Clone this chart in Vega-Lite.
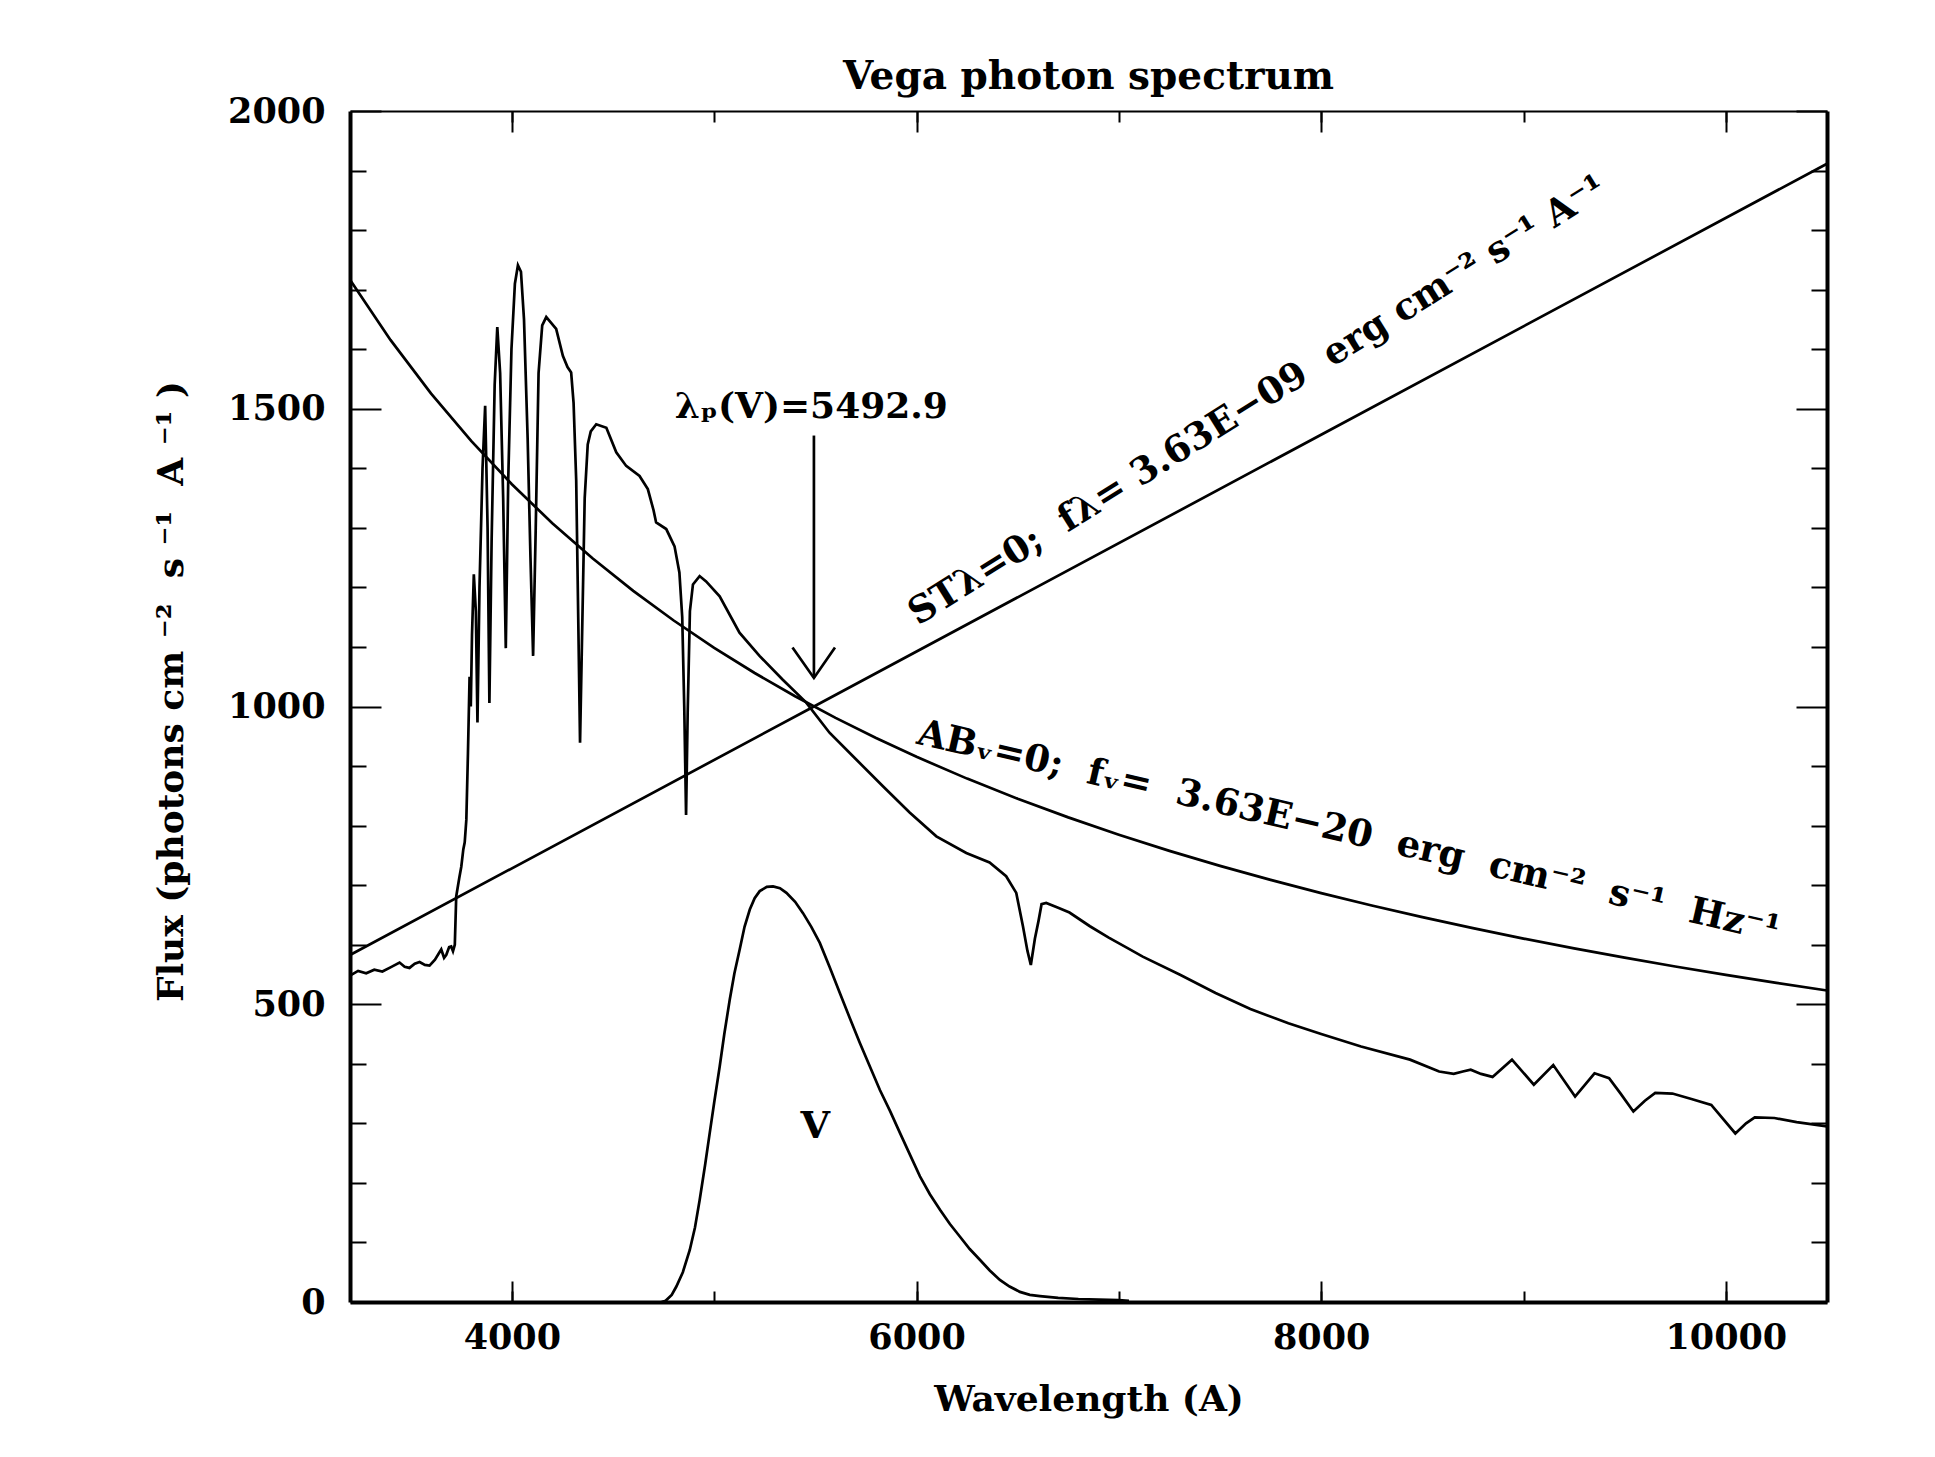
{
  "$schema": "https://vega.github.io/schema/vega-lite/v6.json",
  "width": 1477,
  "height": 1191,
  "autosize": {"type": "none"},
  "padding": {"left": 350, "top": 111, "right": 108, "bottom": 155},
  "background": "white",
  "title": {
    "text": "Vega photon spectrum",
    "font": "DejaVu Serif",
    "fontSize": 39,
    "fontWeight": "bold",
    "color": "black",
    "anchor": "middle",
    "frame": "group",
    "baseline": "alphabetic",
    "offset": 20,
    "dy": 54
  },
  "config": {
    "view": {"stroke": null},
    "axis": {"grid": false, "tickColor": "black", "domainColor": "black", "labelColor": "black", "titleColor": "black", "tickWidth": 2}
  },
  "datasets": {
    "spec": [
      {"w": 3200, "f": 548}, {"w": 3240, "f": 556}, {"w": 3280, "f": 552}, {"w": 3320, "f": 558}, {"w": 3360, "f": 555},
      {"w": 3400, "f": 562}, {"w": 3445, "f": 570}, {"w": 3470, "f": 563}, {"w": 3494, "f": 561}, {"w": 3520, "f": 568},
      {"w": 3544, "f": 571}, {"w": 3570, "f": 566}, {"w": 3593, "f": 565}, {"w": 3620, "f": 575}, {"w": 3640, "f": 586},
      {"w": 3651, "f": 592}, {"w": 3665, "f": 578}, {"w": 3676, "f": 583}, {"w": 3690, "f": 596}, {"w": 3700, "f": 597},
      {"w": 3709, "f": 589}, {"w": 3718, "f": 600}, {"w": 3725, "f": 681}, {"w": 3740, "f": 712}, {"w": 3750, "f": 731},
      {"w": 3760, "f": 760}, {"w": 3767, "f": 772}, {"w": 3775, "f": 810}, {"w": 3783, "f": 922}, {"w": 3791, "f": 1050},
      {"w": 3797, "f": 1000}, {"w": 3803, "f": 1120}, {"w": 3812, "f": 1222}, {"w": 3822, "f": 1160}, {"w": 3830, "f": 973},
      {"w": 3840, "f": 1200}, {"w": 3855, "f": 1400}, {"w": 3868, "f": 1505}, {"w": 3880, "f": 1300}, {"w": 3889, "f": 1006},
      {"w": 3900, "f": 1280}, {"w": 3915, "f": 1540}, {"w": 3928, "f": 1637}, {"w": 3942, "f": 1560}, {"w": 3957, "f": 1350},
      {"w": 3970, "f": 1098}, {"w": 3982, "f": 1380}, {"w": 3998, "f": 1600}, {"w": 4015, "f": 1710}, {"w": 4030, "f": 1741},
      {"w": 4045, "f": 1730}, {"w": 4060, "f": 1650}, {"w": 4078, "f": 1450}, {"w": 4092, "f": 1250}, {"w": 4105, "f": 1085},
      {"w": 4118, "f": 1300}, {"w": 4132, "f": 1560}, {"w": 4150, "f": 1640}, {"w": 4170, "f": 1654}, {"w": 4190, "f": 1646},
      {"w": 4219, "f": 1634}, {"w": 4252, "f": 1589}, {"w": 4275, "f": 1570}, {"w": 4293, "f": 1561}, {"w": 4305, "f": 1510},
      {"w": 4318, "f": 1380}, {"w": 4328, "f": 1150}, {"w": 4337, "f": 939}, {"w": 4346, "f": 1100}, {"w": 4360, "f": 1350},
      {"w": 4375, "f": 1440}, {"w": 4390, "f": 1462}, {"w": 4417, "f": 1474}, {"w": 4467, "f": 1468}, {"w": 4516, "f": 1427},
      {"w": 4565, "f": 1404}, {"w": 4631, "f": 1387}, {"w": 4672, "f": 1365}, {"w": 4700, "f": 1330}, {"w": 4713, "f": 1309},
      {"w": 4763, "f": 1298}, {"w": 4804, "f": 1269}, {"w": 4828, "f": 1225}, {"w": 4842, "f": 1150}, {"w": 4852, "f": 1000},
      {"w": 4861, "f": 818}, {"w": 4869, "f": 990}, {"w": 4880, "f": 1160}, {"w": 4895, "f": 1205}, {"w": 4928, "f": 1219},
      {"w": 4960, "f": 1210}, {"w": 5027, "f": 1185}, {"w": 5125, "f": 1124}, {"w": 5224, "f": 1085}, {"w": 5339, "f": 1045},
      {"w": 5454, "f": 1007}, {"w": 5570, "f": 956}, {"w": 5702, "f": 911}, {"w": 5834, "f": 866}, {"w": 5966, "f": 822},
      {"w": 6098, "f": 782}, {"w": 6246, "f": 754}, {"w": 6361, "f": 738}, {"w": 6443, "f": 715}, {"w": 6493, "f": 687},
      {"w": 6526, "f": 631}, {"w": 6548, "f": 590}, {"w": 6565, "f": 566}, {"w": 6585, "f": 610}, {"w": 6603, "f": 640},
      {"w": 6618, "f": 668}, {"w": 6641, "f": 670}, {"w": 6700, "f": 662}, {"w": 6756, "f": 654}, {"w": 6857, "f": 631},
      {"w": 6950, "f": 612}, {"w": 7050, "f": 593}, {"w": 7118, "f": 580}, {"w": 7300, "f": 550}, {"w": 7478, "f": 519},
      {"w": 7650, "f": 492}, {"w": 7838, "f": 468}, {"w": 8000, "f": 450}, {"w": 8197, "f": 429}, {"w": 8439, "f": 407},
      {"w": 8583, "f": 387}, {"w": 8655, "f": 383}, {"w": 8700, "f": 387}, {"w": 8739, "f": 390}, {"w": 8790, "f": 383},
      {"w": 8847, "f": 378}, {"w": 8943, "f": 407}, {"w": 9051, "f": 365}, {"w": 9147, "f": 398}, {"w": 9255, "f": 345},
      {"w": 9351, "f": 384}, {"w": 9423, "f": 376}, {"w": 9480, "f": 350}, {"w": 9543, "f": 320}, {"w": 9600, "f": 338},
      {"w": 9651, "f": 351}, {"w": 9736, "f": 350}, {"w": 9830, "f": 341}, {"w": 9928, "f": 331}, {"w": 10047, "f": 283},
      {"w": 10100, "f": 300}, {"w": 10143, "f": 310}, {"w": 10240, "f": 309}, {"w": 10350, "f": 302}, {"w": 10500, "f": 295}
    ],
    "vband": [
      {"w": 4740, "f": 0}, {"w": 4760, "f": 2}, {"w": 4790, "f": 12}, {"w": 4813, "f": 26}, {"w": 4845, "f": 50},
      {"w": 4879, "f": 87}, {"w": 4905, "f": 125}, {"w": 4928, "f": 171}, {"w": 4955, "f": 230}, {"w": 4978, "f": 284},
      {"w": 5000, "f": 335}, {"w": 5027, "f": 395}, {"w": 5050, "f": 450}, {"w": 5077, "f": 508}, {"w": 5100, "f": 552},
      {"w": 5126, "f": 592}, {"w": 5150, "f": 630}, {"w": 5176, "f": 659}, {"w": 5200, "f": 678}, {"w": 5225, "f": 690},
      {"w": 5260, "f": 697}, {"w": 5291, "f": 698}, {"w": 5325, "f": 695}, {"w": 5357, "f": 687}, {"w": 5400, "f": 672},
      {"w": 5439, "f": 653}, {"w": 5480, "f": 630}, {"w": 5522, "f": 603}, {"w": 5570, "f": 563}, {"w": 5621, "f": 519},
      {"w": 5670, "f": 477}, {"w": 5720, "f": 435}, {"w": 5770, "f": 395}, {"w": 5819, "f": 356}, {"w": 5870, "f": 320},
      {"w": 5918, "f": 284}, {"w": 5968, "f": 247}, {"w": 6017, "f": 211}, {"w": 6066, "f": 181}, {"w": 6116, "f": 155},
      {"w": 6165, "f": 131}, {"w": 6214, "f": 110}, {"w": 6263, "f": 89}, {"w": 6313, "f": 71}, {"w": 6362, "f": 53},
      {"w": 6412, "f": 37}, {"w": 6460, "f": 26}, {"w": 6511, "f": 17}, {"w": 6560, "f": 12}, {"w": 6610, "f": 10},
      {"w": 6700, "f": 7}, {"w": 6800, "f": 5}, {"w": 6900, "f": 4}, {"w": 7000, "f": 3}, {"w": 7050, "f": 2}
    ],
    "st": [
      {"w": 3200, "f": 582.6}, {"w": 5492.9, "f": 1000}, {"w": 10500, "f": 1911.5}
    ],
    "ab": [
      {"w": 3200, "f": 1716.5}, {"w": 3400, "f": 1615.6}, {"w": 3600, "f": 1525.8}, {"w": 3800, "f": 1445.5},
      {"w": 4000, "f": 1373.2}, {"w": 4200, "f": 1307.8}, {"w": 4400, "f": 1248.4}, {"w": 4600, "f": 1194.1},
      {"w": 4800, "f": 1144.4}, {"w": 5000, "f": 1098.6}, {"w": 5200, "f": 1056.3}, {"w": 5400, "f": 1017.2},
      {"w": 5600, "f": 980.9}, {"w": 5800, "f": 947.1}, {"w": 6000, "f": 915.5}, {"w": 6250, "f": 878.9},
      {"w": 6500, "f": 845.1}, {"w": 6750, "f": 813.8}, {"w": 7000, "f": 784.7}, {"w": 7250, "f": 757.6},
      {"w": 7500, "f": 732.4}, {"w": 7750, "f": 708.8}, {"w": 8000, "f": 686.6}, {"w": 8250, "f": 665.8},
      {"w": 8500, "f": 646.2}, {"w": 8750, "f": 627.8}, {"w": 9000, "f": 610.3}, {"w": 9250, "f": 593.8},
      {"w": 9500, "f": 578.2}, {"w": 9750, "f": 563.4}, {"w": 10000, "f": 549.3}, {"w": 10250, "f": 535.9},
      {"w": 10500, "f": 523.1}
    ],
    "arrow": [
      {"part": "shaft", "i": 0, "w": 5492.9, "f": 1455},
      {"part": "shaft", "i": 1, "w": 5492.9, "f": 1048},
      {"part": "head", "i": 0, "w": 5387, "f": 1099},
      {"part": "head", "i": 1, "w": 5492.9, "f": 1048},
      {"part": "head", "i": 2, "w": 5597, "f": 1099}
    ],
    "lp": [{"w": 5480, "f": 1484, "t": "λₚ(V)=5492.9"}],
    "stlab": [{"w": 6007, "f": 1135, "t": "STλ=0;\u00a0\u00a0fλ= 3.63E−09\u00a0\u00a0erg cm⁻² s⁻¹ A⁻¹"}],
    "ablab": [{"w": 5995, "f": 938, "t": "ABᵥ=0;\u00a0\u00a0fᵥ=\u00a0\u00a03.63E−20\u00a0\u00a0erg\u00a0\u00a0cm⁻²\u00a0\u00a0s⁻¹\u00a0\u00a0Hz⁻¹"}],
    "vlab": [{"w": 5500, "f": 276, "t": "V"}]
  },
  "layer": [
    {
      "data": {"name": "ab"},
      "mark": {"type": "line", "color": "black", "strokeWidth": 2.7},
      "encoding": {
        "x": {"field": "w", "type": "quantitative", "scale": {"domain": [3200, 10500], "nice": false, "zero": false},
          "axis": {"orient": "bottom", "values": [4000, 6000, 8000, 10000], "format": "d", "tickSize": -21, "domainWidth": 4,
            "labelFont": "DejaVu Serif", "labelFontSize": 35, "labelFontWeight": "bold", "labelPadding": 39, "labelBaseline": "top",
            "title": "Wavelength (A)", "titleFont": "DejaVu Serif", "titleFontSize": 36, "titleFontWeight": "bold",
            "titleBaseline": "alphabetic", "titleY": 108}},
        "y": {"field": "f", "type": "quantitative", "scale": {"domain": [0, 2000], "nice": false, "zero": false},
          "axis": {"orient": "left", "values": [0, 500, 1000, 1500, 2000], "format": "d", "tickSize": -31, "domainWidth": 4,
            "labelFont": "DejaVu Serif", "labelFontSize": 35, "labelFontWeight": "bold", "labelPadding": 56, "labelAlign": "right", "labelBaseline": "middle",
            "title": "Flux (photons cm\u00a0⁻²\u00a0\u00a0s\u00a0⁻¹\u00a0\u00a0A\u00a0⁻¹\u00a0)", "titleFont": "DejaVu Serif", "titleFontSize": 36, "titleFontWeight": "bold",
            "titleAngle": 270, "titleBaseline": "alphabetic", "titleAlign": "center", "titleX": -168, "titleY": 580}}
      }
    },
    {
      "data": {"name": "st"},
      "mark": {"type": "line", "color": "black", "strokeWidth": 2.7},
      "encoding": {
        "x": {"field": "w", "type": "quantitative", "scale": {"domain": [3200, 10500], "nice": false, "zero": false},
          "axis": {"orient": "bottom", "values": [4000, 5000, 6000, 7000, 8000, 9000, 10000], "tickSize": -11, "domain": false, "labels": false, "title": null}},
        "y": {"field": "f", "type": "quantitative", "scale": {"domain": [0, 2000], "nice": false, "zero": false},
          "axis": {"orient": "left", "values": [100, 200, 300, 400, 600, 700, 800, 900, 1100, 1200, 1300, 1400, 1600, 1700, 1800, 1900], "tickSize": -16, "domain": false, "labels": false, "title": null}}
      }
    },
    {
      "data": {"name": "spec"},
      "mark": {"type": "line", "color": "black", "strokeWidth": 2.7},
      "encoding": {
        "x": {"field": "w", "type": "quantitative", "scale": {"domain": [3200, 10500], "nice": false, "zero": false},
          "axis": {"orient": "top", "values": [4000, 6000, 8000, 10000], "tickSize": -21, "domainWidth": 2, "labels": false, "title": null}},
        "y": {"field": "f", "type": "quantitative", "scale": {"domain": [0, 2000], "nice": false, "zero": false},
          "axis": {"orient": "right", "values": [0, 500, 1000, 1500, 2000], "tickSize": -31, "domainWidth": 4, "labels": false, "title": null}}
      }
    },
    {
      "data": {"name": "vband"},
      "mark": {"type": "line", "color": "black", "strokeWidth": 2.7},
      "encoding": {
        "x": {"field": "w", "type": "quantitative", "scale": {"domain": [3200, 10500], "nice": false, "zero": false},
          "axis": {"orient": "top", "values": [4000, 5000, 6000, 7000, 8000, 9000, 10000], "tickSize": -11, "domain": false, "labels": false, "title": null}},
        "y": {"field": "f", "type": "quantitative", "scale": {"domain": [0, 2000], "nice": false, "zero": false},
          "axis": {"orient": "right", "values": [100, 200, 300, 400, 600, 700, 800, 900, 1100, 1200, 1300, 1400, 1600, 1700, 1800, 1900], "tickSize": -16, "domain": false, "labels": false, "title": null}}
      }
    },
    {
      "data": {"name": "arrow"},
      "mark": {"type": "line", "color": "black", "strokeWidth": 2.7},
      "encoding": {
        "x": {"field": "w", "type": "quantitative", "axis": null},
        "y": {"field": "f", "type": "quantitative", "axis": null},
        "detail": {"field": "part"},
        "order": {"field": "i", "type": "quantitative"}
      }
    },
    {
      "data": {"name": "lp"},
      "mark": {"type": "text", "font": "DejaVu Serif", "fontSize": 36, "fontWeight": "bold", "align": "center", "baseline": "alphabetic", "color": "black"},
      "encoding": {
        "x": {"field": "w", "type": "quantitative", "axis": null},
        "y": {"field": "f", "type": "quantitative", "axis": null},
        "text": {"field": "t"}
      }
    },
    {
      "data": {"name": "stlab"},
      "mark": {"type": "text", "font": "DejaVu Serif", "fontSize": 37, "fontWeight": "bold", "align": "left", "baseline": "alphabetic", "angle": -32, "color": "black"},
      "encoding": {
        "x": {"field": "w", "type": "quantitative", "axis": null},
        "y": {"field": "f", "type": "quantitative", "axis": null},
        "text": {"field": "t"}
      }
    },
    {
      "data": {"name": "ablab"},
      "mark": {"type": "text", "font": "DejaVu Serif", "fontSize": 37, "fontWeight": "bold", "align": "left", "baseline": "alphabetic", "angle": 13, "color": "black"},
      "encoding": {
        "x": {"field": "w", "type": "quantitative", "axis": null},
        "y": {"field": "f", "type": "quantitative", "axis": null},
        "text": {"field": "t"}
      }
    },
    {
      "data": {"name": "vlab"},
      "mark": {"type": "text", "font": "DejaVu Serif", "fontSize": 38, "fontWeight": "bold", "align": "center", "baseline": "alphabetic", "color": "black"},
      "encoding": {
        "x": {"field": "w", "type": "quantitative", "axis": null},
        "y": {"field": "f", "type": "quantitative", "axis": null},
        "text": {"field": "t"}
      }
    }
  ],
  "resolve": {"axis": {"x": "independent", "y": "independent"}}
}
